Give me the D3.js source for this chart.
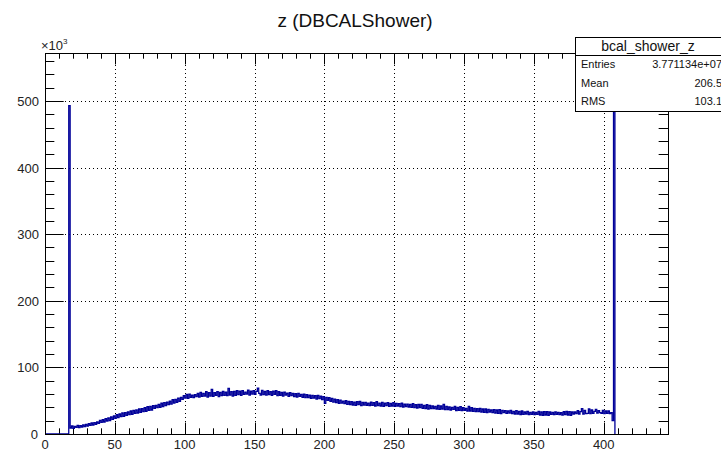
<!DOCTYPE html>
<html>
<head>
<meta charset="utf-8">
<script src="https://cdn.jsdelivr.net/npm/d3@7"></script>
<style>
  body { margin: 0; background: #fff; }
  svg { display: block; font-family: "Liberation Sans", Arial, sans-serif; }
</style>
</head>
<body>
<script>
const width = 721
const height = 452

// histogram: bcal_shower_z, 1-unit bins starting at z = 17 (counts in thousands)
const binStart = 17
const binWidth = 1
const counts = [
  493,
  9, 12, 8.5, 11.5, 10, 13, 9.5, 12.5, 10.5, 13.5,
  11, 14.5, 12, 15.5, 13, 16.5, 13.5, 17, 14.5, 18,
  16, 20.5, 17.5, 21.5, 18, 23, 19.5, 24, 20, 25.5,
  22, 27, 23.5, 29, 24.5, 30, 26, 31.5, 26.5, 32,
  28, 33, 29, 34.5, 29.5, 35.5, 31, 36, 31.5, 37.5,
  32.5, 38, 33.5, 39.5, 34, 41, 35.5, 41.5, 36, 42.5,
  38.5, 43, 39.5, 44.5, 40, 46.5, 41, 47, 42.5, 48,
  44, 49.5, 45, 51.5, 46.5, 52, 47.5, 54, 49, 55,
  52, 57.5, 54, 59.5, 53.5, 60, 55, 58.5, 54.5, 59,
  56, 61, 55.5, 62.5, 56.5, 61, 57, 63.5, 55.5, 62,
  57, 67, 56.5, 62, 58, 63.5, 56, 62.5, 57.5, 64,
  58, 63, 57.5, 68.5, 58.5, 63.5, 57, 64, 58, 65,
  59, 64.5, 58, 65, 59.5, 63, 60, 66, 58.5, 64.5,
  60, 65, 59.5, 64, 69, 61, 58.5, 65.5, 59, 64,
  58.5, 65, 59, 63.5, 58, 64.5, 59.5, 65, 57.5, 63.5,
  58, 62.5, 57, 63, 58.5, 61.5, 56.5, 62, 57.5, 61,
  56, 60.5, 55.5, 61, 56.5, 59.5, 55, 60, 54.5, 59,
  54.5, 58.5, 53.5, 58, 54, 57.5, 52.5, 58, 53, 57,
  51.5, 56, 46, 55, 50.5, 54.5, 49, 53.5, 48, 52.5,
  47, 51.5, 46, 51, 46.5, 49.5, 45.5, 50, 44.5, 49,
  44, 48.5, 43.5, 48, 43, 48.5, 44, 49, 42.5, 47.5,
  43.5, 47.5, 43, 46.5, 42.5, 48, 43, 47, 42, 48.5,
  42.5, 46.5, 42, 47.5, 41.5, 46.5, 42.5, 47, 41.5, 46,
  42, 47, 41.5, 46, 42, 45.5, 41, 46.5, 40.5, 45,
  41, 45, 40.5, 44.5, 40, 45.5, 39.5, 44, 39, 44.5,
  39.5, 44.5, 38.5, 43, 38, 44, 37.5, 43, 38, 42,
  38, 41.5, 37.5, 43, 37, 42, 37.5, 44.5, 36.5, 41.5,
  36.5, 40.5, 36, 40, 37, 41.5, 35, 40, 35.5, 41,
  35, 39.5, 35.5, 38.5, 34.5, 41.5, 34.5, 39.5, 34, 38.5,
  33.5, 38, 33.5, 38.5, 33, 37.5, 32.5, 37.5, 32, 37,
  33, 36, 32, 36.5, 31.5, 36, 31, 36.5, 30.5, 35.5,
  32, 35, 31, 34.5, 31.5, 35.5, 30.5, 34, 30, 35,
  30, 34, 29, 34.5, 29.5, 33, 30, 34, 29, 32.5,
  29.5, 33, 29, 32.5, 29.5, 34, 28.5, 33, 28, 33.5,
  28.5, 33.5, 28, 33, 29.5, 32.5, 29, 33, 29.5, 32.5,
  29, 32, 28.5, 33.5, 29, 34, 28.5, 33.5, 28, 33,
  30, 33, 30.5, 35, 30, 33.5, 38, 30, 35.5, 30.5,
  31, 37.5, 30.5, 36, 31, 34, 37, 31.5, 35, 32,
  31, 35.5, 30.5, 34.5, 31, 34.5, 30.5, 32, 20,
  545
]

const xMajor = [0, 50, 100, 150, 200, 250, 300, 350, 400]
const yMajor = [0, 100, 200, 300, 400, 500]

const statsTitle = 'bcal_shower_z'
const statsNames = ['Entries', 'Mean', 'RMS']
const statsValues = ['3.771134e+07', '206.5', '103.1']

const frame = { left: 45, right: 668, top: 53, bottom: 434 }

const x = d3.scaleLinear()
  .domain([0, 446])
  .range([frame.left, frame.right])

const y = d3.scaleLinear()
  .domain([0, 572])
  .range([frame.bottom, frame.top])

const svg = d3.select('body').append('svg')
  .attr('width', width)
  .attr('height', height)

// grid (dotted)
svg.append('g')
  .selectAll('line')
  .data(xMajor.slice(1))
  .enter().append('line')
  .attr('x1', d => Math.round(x(d)) + 0.5).attr('x2', d => Math.round(x(d)) + 0.5)
  .attr('y1', frame.top).attr('y2', frame.bottom)
  .attr('stroke', '#000').attr('stroke-width', 1)
  .attr('stroke-dasharray', '1,3')

svg.append('g')
  .selectAll('line')
  .data(yMajor.slice(1))
  .enter().append('line')
  .attr('y1', d => Math.round(y(d)) + 0.5).attr('y2', d => Math.round(y(d)) + 0.5)
  .attr('x1', frame.left).attr('x2', frame.right)
  .attr('stroke', '#000').attr('stroke-width', 1)
  .attr('stroke-dasharray', '1,3')

// ticks on all four sides
const xMinor = d3.range(0, 446, 10).filter(d => d % 50 !== 0)
const yMinor = d3.range(0, 572, 20).filter(d => d % 100 !== 0)
const xt = 11.4
const yt = 18.7

function xTicks (values, len) {
  const g = svg.append('g').attr('stroke', '#000').attr('stroke-width', 1)
  g.selectAll('line.b').data(values).enter().append('line')
    .attr('x1', d => Math.round(x(d)) + 0.5).attr('x2', d => Math.round(x(d)) + 0.5)
    .attr('y1', frame.bottom).attr('y2', frame.bottom - len)
  g.selectAll('line.t').data(values).enter().append('line')
    .attr('x1', d => Math.round(x(d)) + 0.5).attr('x2', d => Math.round(x(d)) + 0.5)
    .attr('y1', frame.top).attr('y2', frame.top + len)
}
function yTicks (values, len) {
  const g = svg.append('g').attr('stroke', '#000').attr('stroke-width', 1)
  g.selectAll('line.l').data(values).enter().append('line')
    .attr('y1', d => Math.round(y(d)) + 0.5).attr('y2', d => Math.round(y(d)) + 0.5)
    .attr('x1', frame.left).attr('x2', frame.left + len)
  g.selectAll('line.r').data(values).enter().append('line')
    .attr('y1', d => Math.round(y(d)) + 0.5).attr('y2', d => Math.round(y(d)) + 0.5)
    .attr('x1', frame.right).attr('x2', frame.right - len)
}
xTicks(xMajor, xt)
xTicks(xMinor, xt / 2)
yTicks(yMajor, yt)
yTicks(yMinor, yt / 2)

// histogram outline (step)
const pts = [[x(0), y(0)], [x(binStart), y(0)]]
counts.forEach(function (c, i) {
  const lo = binStart + i * binWidth
  pts.push([x(lo), y(c)])
  pts.push([x(lo + binWidth), y(c)])
})
pts.push([x(binStart + counts.length * binWidth), y(0)])

svg.append('path')
  .attr('d', d3.line()(pts))
  .attr('fill', 'none')
  .attr('stroke', '#000099')
  .attr('stroke-width', 1.3)

// frame
svg.append('rect')
  .attr('x', frame.left + 0.5).attr('y', frame.top + 0.5)
  .attr('width', frame.right - frame.left).attr('height', frame.bottom - frame.top)
  .attr('fill', 'none').attr('stroke', '#000').attr('stroke-width', 1)

// tick labels
svg.append('g')
  .selectAll('text')
  .data(xMajor)
  .enter().append('text')
  .attr('x', d => x(d))
  .attr('y', 449)
  .attr('text-anchor', 'middle')
  .attr('font-size', 13)
  .attr('fill', '#222')
  .text(d => d)

svg.append('g')
  .selectAll('text')
  .data(yMajor)
  .enter().append('text')
  .attr('x', d => d === 0 ? 38 : 39)
  .attr('y', d => y(d) + 5)
  .attr('text-anchor', 'end')
  .attr('font-size', 13)
  .attr('fill', '#222')
  .text(d => d)

const mult = svg.append('text')
  .attr('x', 41).attr('y', 50)
  .attr('font-size', 13).attr('fill', '#222')
mult.append('tspan').text('\u00d710')
mult.append('tspan').attr('dy', -6).attr('font-size', 8).text('3')

// title
svg.append('text')
  .attr('x', 355).attr('y', 27)
  .attr('text-anchor', 'middle')
  .attr('font-size', 19)
  .attr('fill', '#111')
  .text('z (DBCALShower)')

// stats box
const box = svg.append('g')
box.append('rect')
  .attr('x', 575.5).attr('y', 37.5)
  .attr('width', 160).attr('height', 74)
  .attr('fill', '#fff').attr('stroke', '#000')
box.append('line')
  .attr('x1', 575).attr('x2', 721)
  .attr('y1', 55.5).attr('y2', 55.5)
  .attr('stroke', '#000')
box.append('text')
  .attr('x', 648).attr('y', 51)
  .attr('text-anchor', 'middle')
  .attr('font-size', 14)
  .attr('fill', '#111')
  .text(statsTitle)
box.selectAll('text.n')
  .data(statsNames)
  .enter().append('text')
  .attr('class', 'n')
  .attr('x', 581)
  .attr('y', (d, i) => 68 + i * 18.5)
  .attr('font-size', 11)
  .attr('fill', '#111')
  .text(d => d)
box.selectAll('text.v')
  .data(statsValues)
  .enter().append('text')
  .attr('class', 'v')
  .attr('x', 722)
  .attr('y', (d, i) => 68 + i * 18.5)
  .attr('text-anchor', 'end')
  .attr('font-size', 11)
  .attr('fill', '#111')
  .text(d => d)
</script>
</body>
</html>
